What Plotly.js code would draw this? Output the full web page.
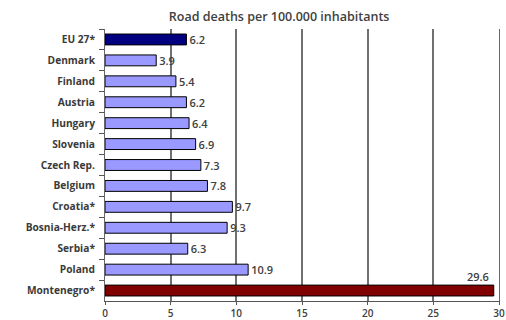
<!DOCTYPE html>
<html>
<head>
<meta charset="utf-8">
<script src="https://cdn.plot.ly/plotly-3.0.1.min.js"></script>
<style>html,body{margin:0;padding:0;background:#fff;}#chart{width:506px;height:320px;}</style>
</head>
<body>
<div id="chart"></div>
<script>
const countries = ["EU 27*","Denmark","Finland","Austria","Hungary","Slovenia","Czech Rep.","Belgium","Croatia*","Bosnia-Herz.*","Serbia*","Poland","Montenegro*"];
const deaths = [6.2,3.9,5.4,6.2,6.4,6.9,7.3,7.8,9.7,9.3,6.3,10.9,29.6];
const barColors = ["#000080","#9999ff","#9999ff","#9999ff","#9999ff","#9999ff","#9999ff","#9999ff","#9999ff","#9999ff","#9999ff","#9999ff","#800000"];
const xTicks = [0,5,10,15,20,25,30];

const fontFam = "'Open Sans', sans-serif";
const last = countries.length - 1;

const trace = {
  type: "bar",
  orientation: "h",
  y: countries,
  x: deaths,
  width: 0.52,
  marker: {color: barColors, line: {color: "#000000", width: 1}},
  text: deaths.map(v => v.toFixed(1)),
  textposition: deaths.map((v, i) => i === last ? "none" : "outside"),
  constraintext: "none",
  textfont: {family: fontFam, size: 11, color: "#404040", weight: 600},
  cliponaxis: false,
  hoverinfo: "skip"
};

const layout = {
  width: 506, height: 320,
  margin: {l: 105, r: 7, t: 29, b: 19},
  paper_bgcolor: "#ffffff",
  plot_bgcolor: "#ffffff",
  showlegend: false,
  title: {
    text: "Road deaths per 100.000 inhabitants",
    font: {family: fontFam, size: 12.5, color: "#404040", weight: 600},
    x: 0.442, xref: "paper", xanchor: "center",
    y: 1 - 17/320, yref: "container", yanchor: "middle"
  },
  xaxis: {
    range: [0, 30],
    autorange: false,
    tickvals: xTicks,
    ticktext: xTicks.map(String),
    automargin: false,
    ticklabeloverflow: "allow",
    ticklabelstandoff: 0,
    showgrid: true, gridcolor: "#707070", gridwidth: 1.8,
    showline: true, linecolor: "#555555", linewidth: 1,
    ticks: "outside", ticklen: 3, tickcolor: "#555555",
    zeroline: false,
    tickfont: {family: fontFam, size: 10, color: "#404040", weight: 600},
    fixedrange: true
  },
  yaxis: {
    type: "category",
    autorange: false,
    range: [countries.length - 0.5, -0.5],
    automargin: false,
    showline: true, linecolor: "#666666", linewidth: 1, mirror: true,
    ticks: "outside", ticklen: 5, tickcolor: "#555555",
    tickson: "boundaries",
    showgrid: false,
    ticklabelstandoff: 7,
    tickfont: {family: fontFam, size: 10.2, color: "#3a3a3a", weight: 700},
    fixedrange: true
  },
  annotations: [{
    x: deaths[last], y: countries[last], xref: "x", yref: "y",
    text: deaths[last].toFixed(1), showarrow: false,
    xanchor: "right", yanchor: "middle", yshift: 14, xshift: -3,
    font: {family: fontFam, size: 11, color: "#404040", weight: 600}
  }]
};

Plotly.newPlot("chart", [trace], layout, {displayModeBar: false, staticPlot: true});
</script>
</body>
</html>
